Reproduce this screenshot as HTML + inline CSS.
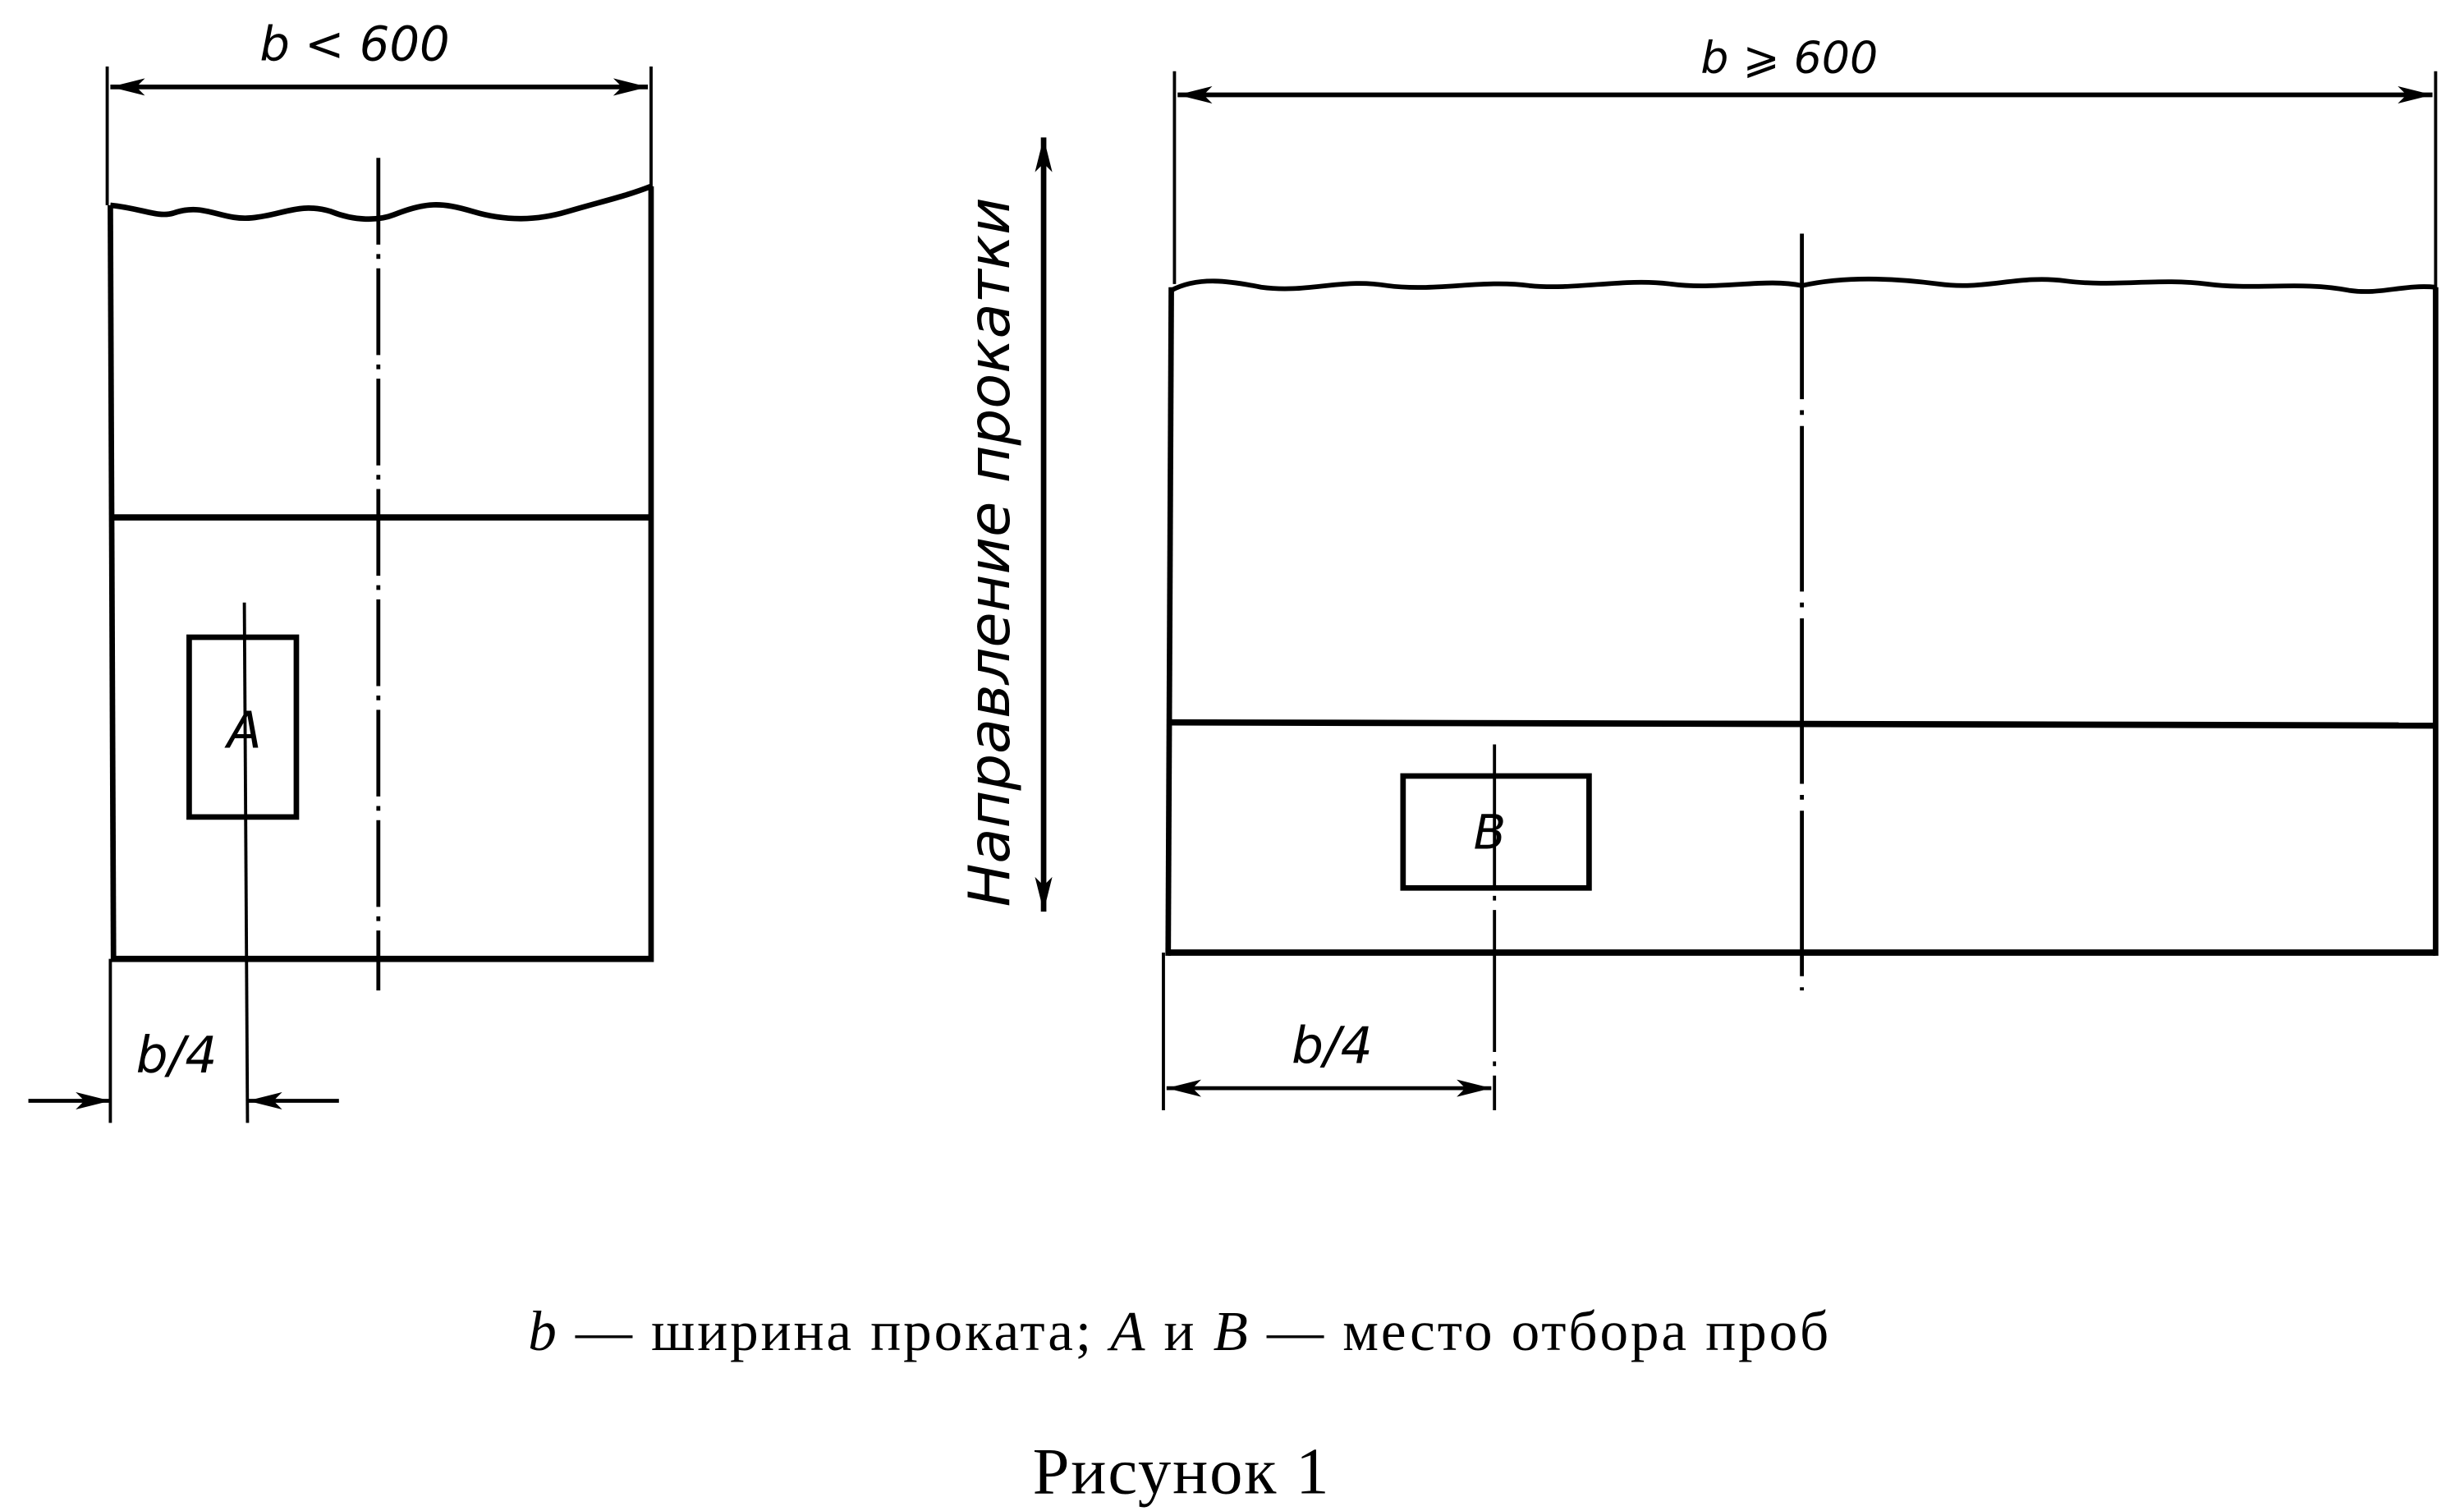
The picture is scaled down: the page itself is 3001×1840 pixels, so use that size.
<!DOCTYPE html>
<html><head><meta charset="utf-8"><style>
html,body{margin:0;padding:0;background:#fff;}
svg{display:block;}
.h{font-family:"DejaVu Sans","Liberation Sans",sans-serif;font-style:italic;}
.s{font-family:"Liberation Serif",serif;}
</style></head><body>
<svg width="3001" height="1840" viewBox="0 0 1563 958" xmlns="http://www.w3.org/2000/svg">
<defs>
<marker id="a" viewBox="0 0 20 10" refX="20" refY="5" markerWidth="22" markerHeight="11" markerUnits="userSpaceOnUse" orient="auto-start-reverse">
<path d="M0,0 L20,5 L0,10 L5,5 Z" fill="#000"/></marker>
</defs>
<g stroke="#000" fill="none">
<line x1="68" y1="42" x2="68" y2="130" stroke-width="2"/>
<line x1="413" y1="42" x2="413" y2="120" stroke-width="2"/>
<line x1="70" y1="55" x2="411" y2="55" stroke-width="3" marker-start="url(#a)" marker-end="url(#a)"/>
<path d="M70,130 C90,132 100,138 110,135 C130,128 140,140 160,138 C180,136 190,128 210,134 C225,140 240,140 250,136 C270,128 280,128 300,134 C320,140 340,140 360,134 C380,128 395,125 413,118" stroke-width="3.5"/>
<line x1="70" y1="130" x2="72" y2="610" stroke-width="3.5"/>
<line x1="413" y1="118" x2="413" y2="610" stroke-width="3.5"/>
<line x1="72" y1="608" x2="413" y2="608" stroke-width="4"/>
<line x1="70" y1="328" x2="413" y2="328" stroke-width="4"/>
<line x1="240" y1="100" x2="240" y2="628" stroke-width="2.5" stroke-dasharray="55,6,3,6"/>
<rect x="120" y="404" width="68" height="114" stroke-width="3.5"/>
<line x1="155" y1="382" x2="157" y2="712" stroke-width="2"/>
<line x1="70" y1="608" x2="70" y2="712" stroke-width="2"/>
<line x1="18" y1="698" x2="70" y2="698" stroke-width="2.5" marker-end="url(#a)"/>
<line x1="215" y1="698" x2="157" y2="698" stroke-width="2.5" marker-end="url(#a)"/>
<line x1="745" y1="45" x2="745" y2="180" stroke-width="2"/>
<line x1="1545" y1="45" x2="1545" y2="185" stroke-width="2"/>
<line x1="747" y1="60" x2="1543" y2="60" stroke-width="3" marker-start="url(#a)" marker-end="url(#a)"/>
<path d="M743,184 C760,175 780,178 800,182 C830,186 850,176 880,181 C910,185 940,177 970,181 C1000,184 1030,176 1060,180 C1090,184 1120,176 1143,181 C1170,175 1200,176 1230,180 C1260,184 1280,174 1310,178 C1340,182 1370,176 1400,180 C1430,184 1460,178 1490,184 C1510,187 1525,180 1545,182" stroke-width="3"/>
<line x1="743" y1="182" x2="741" y2="606" stroke-width="3.5"/>
<line x1="1545" y1="182" x2="1545" y2="606" stroke-width="3.5"/>
<line x1="741" y1="604" x2="1545" y2="604" stroke-width="4"/>
<line x1="743" y1="458" x2="1545" y2="460" stroke-width="4"/>
<line x1="1143" y1="148" x2="1143" y2="628" stroke-width="2.5" stroke-dasharray="105,7,3,7"/>
<rect x="890" y="492" width="118" height="71" stroke-width="3.5"/>
<line x1="948" y1="472" x2="948" y2="704" stroke-width="2" stroke-dasharray="90,6,3,6"/>
<line x1="738" y1="604" x2="738" y2="704" stroke-width="2"/>
<line x1="740" y1="690" x2="946" y2="690" stroke-width="2.5" marker-start="url(#a)" marker-end="url(#a)"/>
<line x1="662" y1="87" x2="662" y2="578" stroke-width="3.5" marker-start="url(#a)" marker-end="url(#a)"/>
</g>
<g fill="#000" class="h">
<text x="225" y="38" font-size="30" text-anchor="middle">b &lt; 600</text>
<text x="1135" y="46" font-size="28" text-anchor="middle">b ⩾ 600</text>
<text x="155" y="474" font-size="32" text-anchor="middle">A</text>
<text x="945" y="538" font-size="30" text-anchor="middle">B</text>
<text x="112" y="680" font-size="32" text-anchor="middle">b/4</text>
<text x="845" y="674" font-size="32" text-anchor="middle">b/4</text>
<text transform="translate(640,350) rotate(-90)" font-size="36" text-anchor="middle" textLength="450" lengthAdjust="spacingAndGlyphs">Направление прокатки</text>
</g>
<g fill="#000" class="s">
<text x="335" y="856" font-size="36" textLength="825" lengthAdjust="spacing"><tspan font-style="italic">b</tspan> — ширина проката; <tspan font-style="italic">A</tspan> и <tspan font-style="italic">B</tspan> — место отбора проб</text>
<text x="655" y="947" font-size="42" textLength="188" lengthAdjust="spacing">Рисунок 1</text>
</g>
</svg>
</body></html>
